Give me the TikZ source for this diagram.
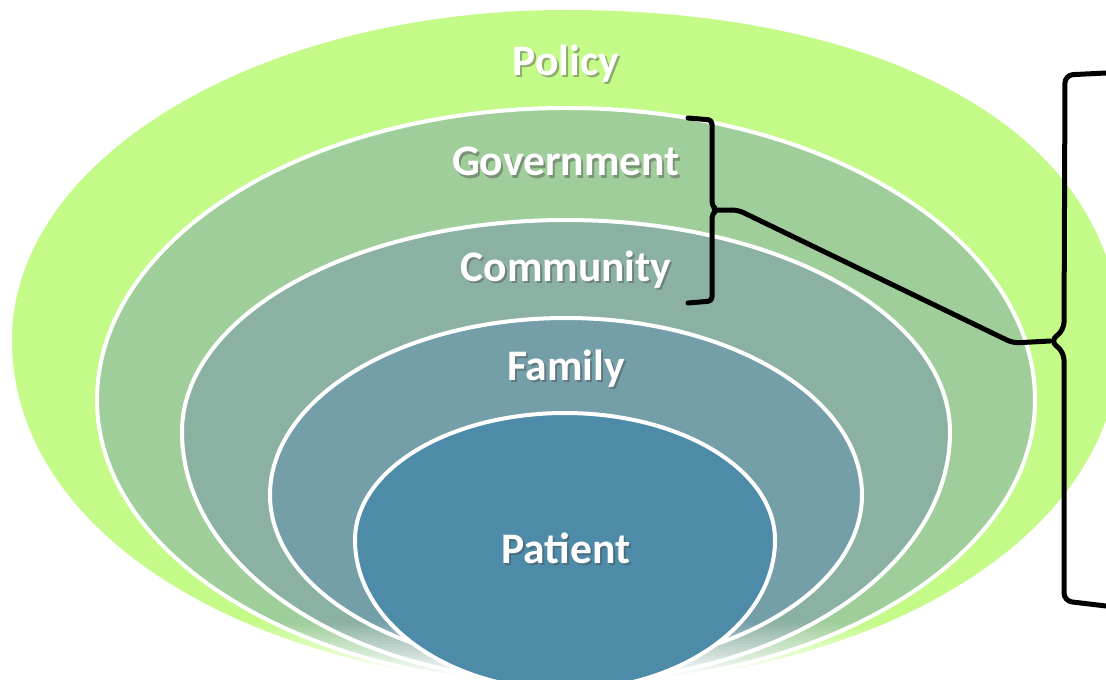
\documentclass[tikz,border=0pt]{standalone}
\usepackage{fontspec}
\setmainfont{Carlito}
\definecolor{policygreen}{HTML}{C3FA88}
\definecolor{govgreen}{HTML}{A0CE9A}
\definecolor{commgreen}{HTML}{8BB1A2}
\definecolor{famblue}{HTML}{749EA8}
\definecolor{patblue}{HTML}{4D8BA8}
\tikzset{
  ringtext/.style={text=white, anchor=base, font=\bfseries\fontsize{21.8}{26}\selectfont},
  ringshadow/.style={ringtext, text=black!70, opacity=0.45},
  ringedge/.style={draw=white, line width=2pt},
  brace/.style={line width=2.5pt, line join=round, line cap=round},
}
\begin{document}
\begin{tikzpicture}[x=0.5pt,y=-0.5pt]
\useasboundingbox (0,0) rectangle (1106,679);

% outer ring, soft edge, no outline
\fill[policygreen] (12,340) arc[start angle=180, end angle=270, x radius=554, y radius=330]
  .. controls (900,10) and (1120,140) .. (1120,340)
  .. controls (1120,547) and (854,685) .. (566,685)
  .. controls (278,685) and (12,547) .. (12,340) -- cycle;

% inner rings: centre x/y, x radius, top and bottom y radius
\foreach \cx/\cy/\rx/\rt/\rb/\col in {566/400/469/292/285/govgreen,
                                      566/432/384/212/250/commgreen,
                                      566/495/296/177/173/famblue}
  \fill[fill=\col, ringedge] (\cx-\rx,\cy) arc[start angle=180, end angle=360, x radius=\rx, y radius=\rt]
    arc[start angle=0, end angle=180, x radius=\rx, y radius=\rb] -- cycle;

% bottom fade
\foreach \i in {0,...,19}
  \fill[white, opacity=\i/19] (0,{620+\i*3}) rectangle (1106,{623+\i*3});

% core
\fill[fill=patblue, ringedge] (355,540) arc[start angle=180, end angle=360, x radius=210, y radius=127]
  arc[start angle=0, end angle=180, x radius=210, y radius=150] -- cycle;

% labels
\foreach \name/\y/\txt in {policy/76/Policy, gov/176/Government, comm/281/Community,
                           family/380/Family, patient/563/Patient} {
  \node[ringshadow] at (568,\y+2) {\txt};
  \node[ringtext] (\name) at (566,\y) {\txt};
}

% braces
\coordinate (innertip) at (717,210);
\coordinate (outertip) at (1050,341);
\draw[brace, rounded corners=2pt] (688,118) -- (712,120) -- (712,206) -- (innertip) -- (712,214) -- (712,301) -- (688,303);
\draw[brace, rounded corners=4pt] (1106,73) -- (1065,75) -- (1064,330) -- (outertip) -- (1064,352) -- (1064,601) -- (1106,606);
\draw[brace, rounded corners=3pt] (innertip) -- (738,210) -- (1013,343) -- (outertip);
\end{tikzpicture}
\end{document}
